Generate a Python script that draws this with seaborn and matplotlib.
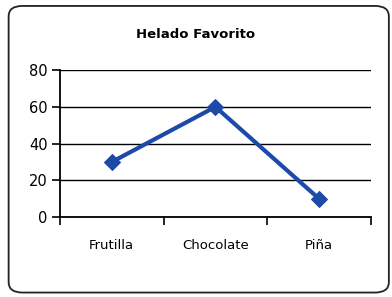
import matplotlib
matplotlib.use("Agg")
import matplotlib.pyplot as plt
import seaborn as sns
import pandas as pd
from matplotlib.patches import FancyBboxPatch

categories = ["Frutilla", "Chocolate", "Piña"]
values = [30, 60, 10]
yticks = [0, 20, 40, 60, 80]
title = "Helado Favorito"

sns.set_style("white")
plt.rcParams['font.family'] = ['DejaVu Sans']
plt.rcParams['text.color'] = 'black'

df = pd.DataFrame({"cat": categories, "val": values})
df["pos"] = range(len(categories))

fig = plt.figure(figsize=(3.92, 2.97), dpi=100)
fig.patch.set_facecolor("white")
box = FancyBboxPatch((0.022, 0.015), 0.97, 0.965, boxstyle="round,pad=0,rounding_size=0.035",
                     transform=fig.transFigure, facecolor="white", edgecolor="#222222",
                     linewidth=1.3, zorder=-5)
fig.patches.append(box)

ax = fig.add_axes([0.153, 0.269, 0.793, 0.495])
ax.set_zorder(2)
ax.set_facecolor("none")
sns.lineplot(data=df, x="pos", y="val", ax=ax, color="#1d4aa8", linewidth=3,
             marker="D", markersize=8, markeredgecolor="#1d4aa8", zorder=3)

ax.set_xlim(-0.5, len(categories) - 0.5)
ax.set_ylim(0, 80)
ax.set_yticks(yticks)
ax.set_yticklabels([str(t) for t in yticks], fontsize=10.5)
ax.yaxis.grid(True, color="black", linewidth=1)
ax.xaxis.grid(False)
ax.set_xticks([i - 0.5 for i in range(len(categories) + 1)])
ax.set_xticklabels([])
ax.set_xticks(list(range(len(categories))), minor=True)
ax.set_xticklabels(categories, minor=True, fontsize=9.5)
ax.tick_params(axis="x", which="major", bottom=True, direction="out", length=6, width=1.2, color="black")
ax.tick_params(axis="x", which="minor", bottom=True, length=0, pad=16, labelcolor="black")
ax.tick_params(axis="y", left=True, direction="out", length=6, width=1.2, color="black", pad=3, labelcolor="black")
for s in ["top", "right"]:
    ax.spines[s].set_visible(False)
for s in ["left", "bottom"]:
    ax.spines[s].set_color("black")
    ax.spines[s].set_linewidth(1.3)
ax.set_xlabel("")
ax.set_ylabel("")
fig.text(0.5, 0.885, title, ha="center", va="center", fontsize=9.5, fontweight="bold", color="black")

fig.savefig("out.png", dpi=100)
